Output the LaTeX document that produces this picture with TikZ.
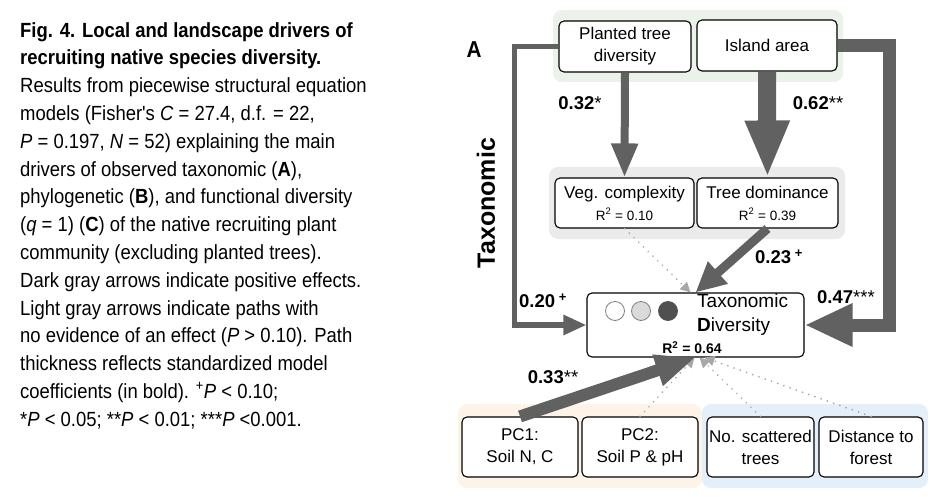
\documentclass[tikz,border=0pt]{standalone}
\usepackage{fontspec}
\setmainfont{Liberation Sans}
\newfontfamily\capfont{Liberation Sans}[FakeStretch=0.9]
\usetikzlibrary{shapes,arrows,arrows.meta,positioning,calc,fit}
\usepackage{xcolor}
\definecolor{darkarrow}{HTML}{616161}
\definecolor{lightarrow}{HTML}{A8A8A8}
\definecolor{greenbg}{HTML}{EBF2EA}
\definecolor{graybg}{HTML}{EBEBEB}
\definecolor{orangebg}{HTML}{FDF3E6}
\definecolor{bluebg}{HTML}{E3F0FA}
\definecolor{dotmidfill}{HTML}{DADADA}
\definecolor{dothighfill}{HTML}{505050}

\begin{document}
\begin{tikzpicture}[x=1pt, y=-1pt, line join=miter]
    % Стилі
    \tikzstyle{var} = [rectangle, draw, line width=1.1pt, rounded corners=5pt, fill=white, align=center, inner sep=0pt, font=\fontsize{17}{22}\selectfont]
    \tikzstyle{group} = [rounded corners=9pt, draw=none]
    \tikzstyle{coef} = [font=\fontsize{18.5}{20}\selectfont\bfseries, inner sep=0pt]
    \tikzstyle{effect} = [draw=darkarrow]
    \tikzstyle{noeffect} = [draw=lightarrow, line width=1.9pt, line cap=round, dash pattern=on 0.1pt off 6.5pt, -{Triangle[length=10pt, width=10pt, fill=lightarrow]}]
    \tikzstyle{sample} = [circle, line width=0.8pt, minimum size=19pt, inner sep=0pt]

    \useasboundingbox (0,0) rectangle (944,497);

    % Підпис
    \node[anchor=north west, align=left, inner sep=0pt, font=\capfont\fontsize{20.5}{27.8}\selectfont] (caption) at (20,22) {%
        \textbf{Fig. 4. Local and landscape drivers of}\\
        \textbf{recruiting native species diversity.}\\
        Results from piecewise structural equation\\
        models (Fisher's \textit{C} = 27.4, d.f. = 22,\\
        \textit{P} = 0.197, \textit{N} = 52) explaining the main\\
        drivers of observed taxonomic (\textbf{A}),\\
        phylogenetic (\textbf{B}), and functional diversity\\
        (\textit{q} = 1) (\textbf{C}) of the native recruiting plant\\
        community (excluding planted trees).\\
        Dark gray arrows indicate positive effects.\\
        Light gray arrows indicate paths with\\
        no evidence of an effect (\textit{P} > 0.10). Path\\
        thickness reflects standardized model\\
        coefficients (in bold). \textsuperscript{+}\textit{P} < 0.10;\\
        *\textit{P} < 0.05; **\textit{P} < 0.01; ***\textit{P} <0.001.};

    \node[font=\capfont\fontsize{23}{24}\selectfont\bfseries] (panel) at (474,50) {A};
    \node[rotate=90, font=\fontsize{25}{28}\selectfont\bfseries] (rowlbl) at (486,203) {Taxonomic};

    % Групи
    \fill[group, fill=greenbg] (553,10) rectangle (843,82);
    \fill[group, fill=graybg] (549,167) rectangle (845,239);
    \fill[group, fill=orangebg] (458,404) rectangle (702,488);
    \fill[group, fill=bluebg] (702,404) rectangle (928,488);

    % Змінні
    \node[var, minimum width=132pt, minimum height=51pt] (planted) at (625,46.5) {Planted tree\\diversity};
    \node[var, minimum width=140pt, minimum height=51pt] (island) at (767,45.5) {Island area};
    \node[var, minimum width=139pt, minimum height=50pt] (veg) at (624.5,203) {Veg. complexity\\{\fontsize{13.5}{14}\selectfont R\textsuperscript{2} = 0.10}};
    \node[var, minimum width=141pt, minimum height=50pt] (treedom) at (767.5,203) {Tree dominance\\{\fontsize{13.5}{14}\selectfont R\textsuperscript{2} = 0.39}};
    \node[var, minimum width=217pt, minimum height=64pt] (taxdiv) at (695.5,325) {};
    \node[var, minimum width=116pt, minimum height=60pt] (pc1) at (520,447) {PC1:\\Soil N, C};
    \node[var, minimum width=116pt, minimum height=60pt] (pc2) at (640,447) {PC2:\\Soil P \& pH};
    \node[var, minimum width=107pt, minimum height=60pt] (scat) at (760.5,447) {No. scattered\\trees};
    \node[var, minimum width=104pt, minimum height=60pt] (dist) at (871,447) {Distance to\\forest};

    % Вміст блоку різноманіття
    \node[sample, draw=gray, fill=white] (dotlow) at (615,311) {};
    \node[sample, draw=gray, fill=dotmidfill] (dotmid) at (641,311) {};
    \node[sample, draw=dothighfill, fill=dothighfill] (dothigh) at (668,311) {};
    \node[anchor=west, align=left, inner sep=0pt, font=\fontsize{19}{24}\selectfont] (taxlbl) at (697,315) {Taxonomic\\\textbf{D}iversity};
    \node[font=\fontsize{14}{16}\selectfont\bfseries, inner sep=0pt] (taxr2) at (692,348) {R\textsuperscript{2} = 0.64};

    % Шляхи без ефекту
    \draw[noeffect] (veg.south) -- ([xshift=-5pt]taxdiv.north);
    \draw[noeffect] (pc2.north) -- ([xshift=-1pt]taxdiv.south);
    \draw[noeffect] (scat.north) -- ([xshift=4pt]taxdiv.south);
    \draw[noeffect] (dist.north) -- ([xshift=9pt]taxdiv.south);

    % Позитивні шляхи
    \draw[effect, line width=8pt, -{Triangle[length=34pt, width=25pt]}] (planted.south) -- (veg.north);
    \draw[effect, line width=18pt, -{Triangle[length=57pt, width=41pt]}] (island.south) -- (treedom.north);
    \draw[effect, line width=5.5pt, -{Triangle[length=23pt, width=19pt]}] (planted.west) -- ++(-44,0) |- (taxdiv.west);
    \draw[effect, line width=13pt, -{Triangle[length=48pt, width=40pt]}] (island.east) -- ++(52,0) |- (taxdiv.east);
    \draw[effect, line width=9pt, -{Triangle[length=30pt, width=28pt]}] (treedom.south) -- (taxdiv.north);
    \draw[effect, line width=12pt, -{Triangle[length=40pt, width=30pt]}] (pc1.north) -- (taxdiv.south);

    % Коефіцієнти
    \node[coef] (c32) at (580,103) {0.32{\mdseries*}};
    \node[coef] (c62) at (818,103) {0.62{\mdseries**}};
    \node[coef] (c20) at (543,301) {0.20\textsuperscript{ +}};
    \node[coef] (c23) at (779,257) {0.23\textsuperscript{ +}};
    \node[coef] (c47) at (846,297) {0.47{\mdseries***}};
    \node[coef] (c33) at (553,377) {0.33{\mdseries**}};
\end{tikzpicture}
\end{document}
